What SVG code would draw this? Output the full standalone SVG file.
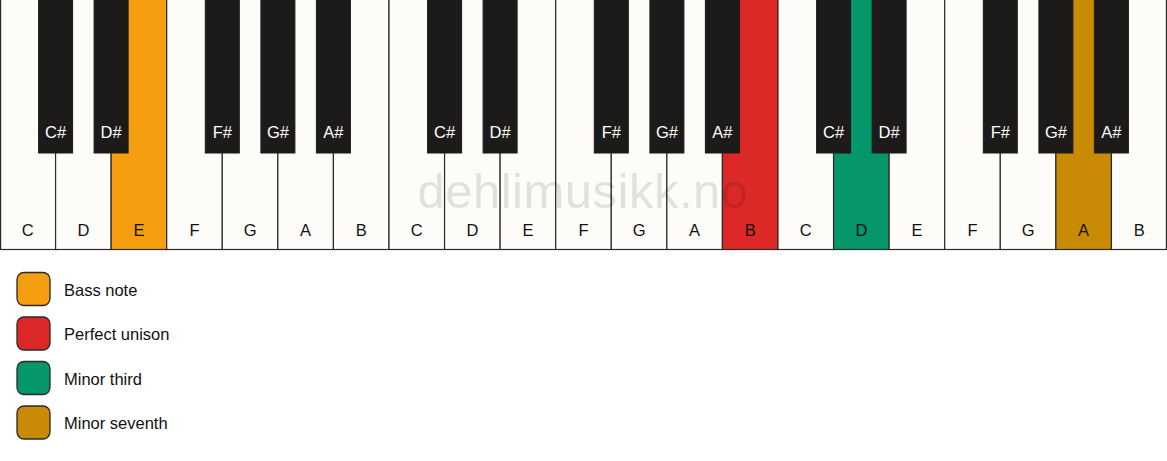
<svg xmlns="http://www.w3.org/2000/svg" width="1167" height="461" viewBox="0 0 1167 461">
<style>
.w{fill:#fdfcf9;stroke:#2a2a2a;stroke-width:1.2}
.b{fill:#1c1b19;stroke:#1c1b19;stroke-width:1}
.wl{font-family:"Liberation Sans",Arial,sans-serif;font-size:16.5px;fill:#111;text-anchor:middle}
.bl{font-family:"Liberation Sans",Arial,sans-serif;font-size:16.5px;fill:#fff;text-anchor:middle}
.lg{stroke:#2a2a2a;stroke-width:1.3}
.lt{font-family:"Liberation Sans",Arial,sans-serif;font-size:16.5px;fill:#111}
</style>
<rect x="0" y="0" width="1167" height="461" fill="#ffffff"/>
<g id="white-keys">
<rect class="w" x="0.6" y="-1" width="55.57" height="250.5"/>
<rect class="w" x="55.57" y="-1" width="55.57" height="250.5"/>
<rect class="w" x="111.14" y="-1" width="55.57" height="250.5" style="fill:#f49e10"/>
<rect class="w" x="166.71" y="-1" width="55.57" height="250.5"/>
<rect class="w" x="222.29" y="-1" width="55.57" height="250.5"/>
<rect class="w" x="277.86" y="-1" width="55.57" height="250.5"/>
<rect class="w" x="333.43" y="-1" width="55.57" height="250.5"/>
<rect class="w" x="389" y="-1" width="55.57" height="250.5"/>
<rect class="w" x="444.57" y="-1" width="55.57" height="250.5"/>
<rect class="w" x="500.14" y="-1" width="55.57" height="250.5"/>
<rect class="w" x="555.71" y="-1" width="55.57" height="250.5"/>
<rect class="w" x="611.29" y="-1" width="55.57" height="250.5"/>
<rect class="w" x="666.86" y="-1" width="55.57" height="250.5"/>
<rect class="w" x="722.43" y="-1" width="55.57" height="250.5" style="fill:#dd2828"/>
<rect class="w" x="778" y="-1" width="55.57" height="250.5"/>
<rect class="w" x="833.57" y="-1" width="55.57" height="250.5" style="fill:#05966a"/>
<rect class="w" x="889.14" y="-1" width="55.57" height="250.5"/>
<rect class="w" x="944.71" y="-1" width="55.57" height="250.5"/>
<rect class="w" x="1000.29" y="-1" width="55.57" height="250.5"/>
<rect class="w" x="1055.86" y="-1" width="55.57" height="250.5" style="fill:#c98a05"/>
<rect class="w" x="1111.43" y="-1" width="55" height="250.5"/>
</g>
<g id="watermark">
<text x="583" y="208" font-family="Liberation Sans,Arial,sans-serif" font-size="49" letter-spacing="0.5" fill="#000" fill-opacity="0.11" text-anchor="middle">dehlimusikk.no</text>
</g>
<g id="white-labels">
<text class="wl" x="27.8" y="236">C</text>
<text class="wl" x="83.4" y="236">D</text>
<text class="wl" x="138.9" y="236">E</text>
<text class="wl" x="194.5" y="236">F</text>
<text class="wl" x="250.1" y="236">G</text>
<text class="wl" x="305.6" y="236">A</text>
<text class="wl" x="361.2" y="236">B</text>
<text class="wl" x="416.8" y="236">C</text>
<text class="wl" x="472.4" y="236">D</text>
<text class="wl" x="527.9" y="236">E</text>
<text class="wl" x="583.5" y="236">F</text>
<text class="wl" x="639.1" y="236">G</text>
<text class="wl" x="694.6" y="236">A</text>
<text class="wl" x="750.2" y="236">B</text>
<text class="wl" x="805.8" y="236">C</text>
<text class="wl" x="861.4" y="236">D</text>
<text class="wl" x="916.9" y="236">E</text>
<text class="wl" x="972.5" y="236">F</text>
<text class="wl" x="1028.1" y="236">G</text>
<text class="wl" x="1083.6" y="236">A</text>
<text class="wl" x="1139.2" y="236">B</text>
</g>
<g id="black-keys">
<rect class="b" x="38.6" y="-1" width="34" height="154"/>
<rect class="b" x="94.1" y="-1" width="34" height="154"/>
<rect class="b" x="205.3" y="-1" width="34" height="154"/>
<rect class="b" x="260.9" y="-1" width="34" height="154"/>
<rect class="b" x="316.4" y="-1" width="34" height="154"/>
<rect class="b" x="427.6" y="-1" width="34" height="154"/>
<rect class="b" x="483.1" y="-1" width="34" height="154"/>
<rect class="b" x="594.3" y="-1" width="34" height="154"/>
<rect class="b" x="649.9" y="-1" width="34" height="154"/>
<rect class="b" x="705.4" y="-1" width="34" height="154"/>
<rect class="b" x="816.6" y="-1" width="34" height="154"/>
<rect class="b" x="872.1" y="-1" width="34" height="154"/>
<rect class="b" x="983.3" y="-1" width="34" height="154"/>
<rect class="b" x="1038.9" y="-1" width="34" height="154"/>
<rect class="b" x="1094.4" y="-1" width="34" height="154"/>
</g>
<g id="black-labels">
<text class="bl" x="55.6" y="138">C#</text>
<text class="bl" x="111.1" y="138">D#</text>
<text class="bl" x="222.3" y="138">F#</text>
<text class="bl" x="277.9" y="138">G#</text>
<text class="bl" x="333.4" y="138">A#</text>
<text class="bl" x="444.6" y="138">C#</text>
<text class="bl" x="500.1" y="138">D#</text>
<text class="bl" x="611.3" y="138">F#</text>
<text class="bl" x="666.9" y="138">G#</text>
<text class="bl" x="722.4" y="138">A#</text>
<text class="bl" x="833.6" y="138">C#</text>
<text class="bl" x="889.1" y="138">D#</text>
<text class="bl" x="1000.3" y="138">F#</text>
<text class="bl" x="1055.9" y="138">G#</text>
<text class="bl" x="1111.4" y="138">A#</text>
</g>
<g id="legend-bass">
<rect class="lg" x="17" y="272.5" width="33" height="33" rx="7" fill="#f49e10"/>
<text class="lt" x="64" y="295.5">Bass note</text>
</g>
<g id="legend-unison">
<rect class="lg" x="17" y="317" width="33" height="33" rx="7" fill="#dd2828"/>
<text class="lt" x="64" y="340">Perfect unison</text>
</g>
<g id="legend-third">
<rect class="lg" x="17" y="361.5" width="33" height="33" rx="7" fill="#05966a"/>
<text class="lt" x="64" y="384.5">Minor third</text>
</g>
<g id="legend-seventh">
<rect class="lg" x="17" y="406" width="33" height="33" rx="7" fill="#c98a05"/>
<text class="lt" x="64" y="429">Minor seventh</text>
</g>
</svg>
